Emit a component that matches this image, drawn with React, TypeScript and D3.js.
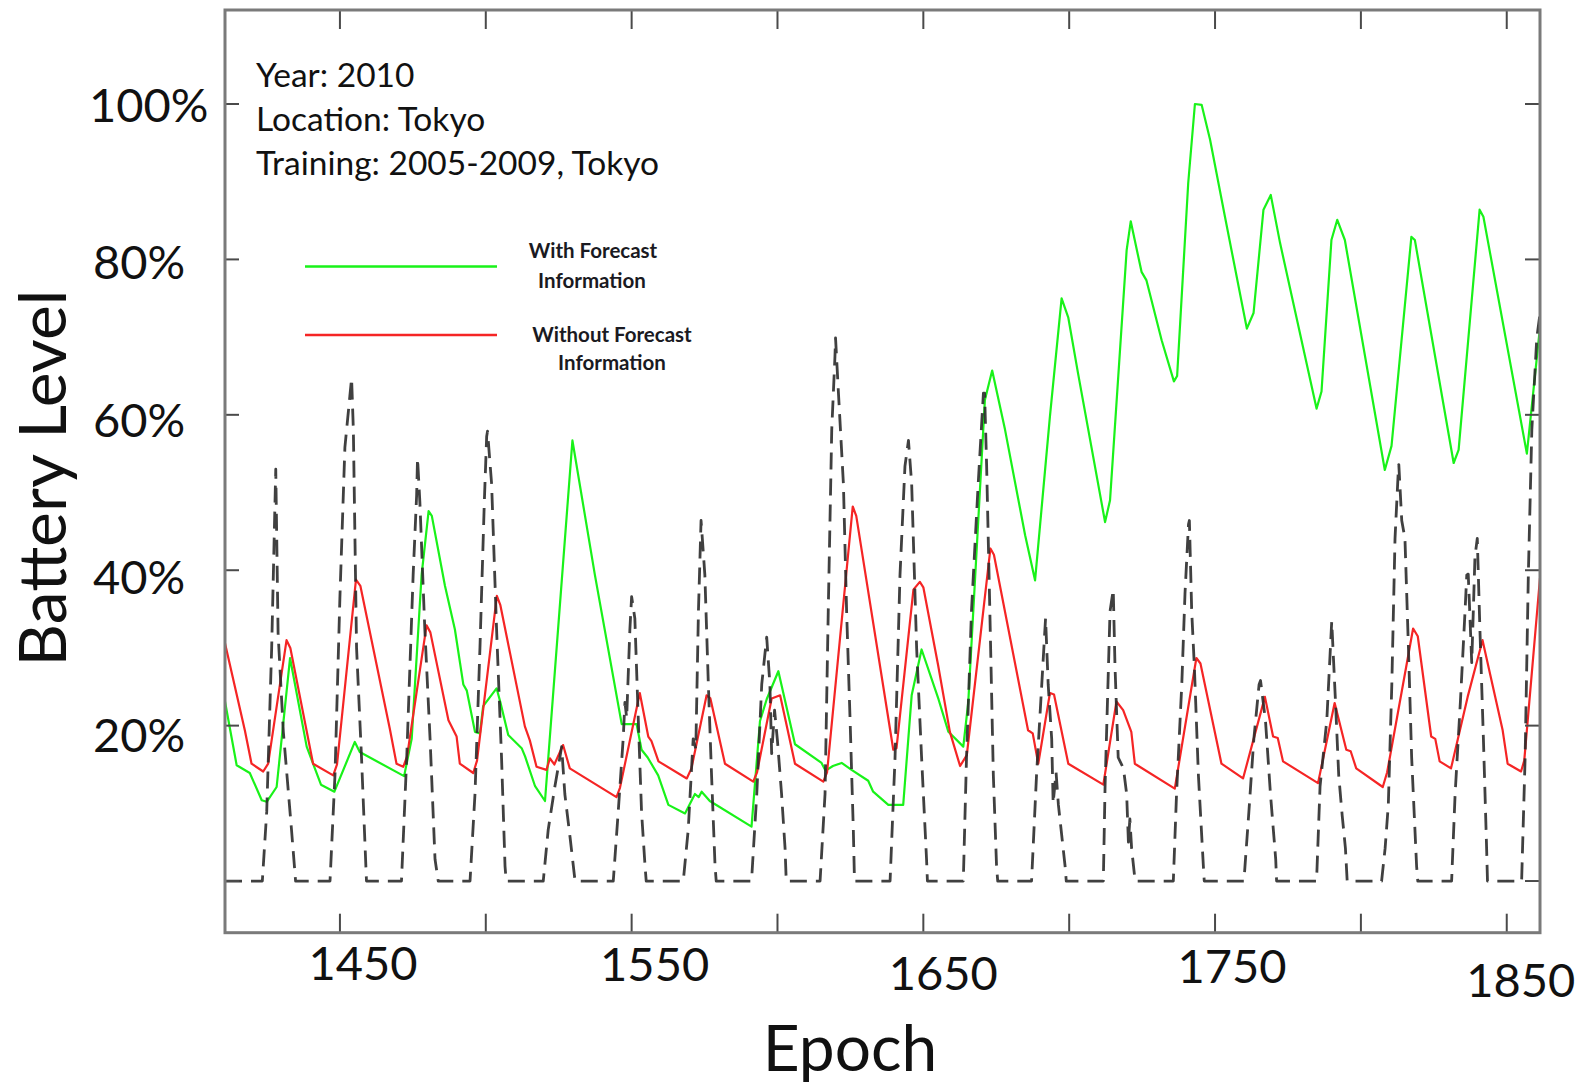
import React from "react";
import * as d3 from "d3";

// epochs shown on the axis
const xTicks = [1450, 1500, 1550, 1600, 1650, 1700, 1750, 1800, 1850];
const xLabels = [1450, 1550, 1650, 1750, 1850];
const yTicks = [0, 20, 40, 60, 80, 100];
const yLabels = [20, 40, 60, 80, 100];

const notes = ["Year: 2010", "Location: Tokyo", "Training: 2005-2009, Tokyo"];

// battery level (%) with forecast information, [epoch, value]
const withForecast: [number, number][] = [
  [1410.6, 23.1], [1414.6, 14.9], [1419.1, 13.9], [1423.2, 10.4], [1424.9, 10.2], [1428.3, 12.1],
  [1432.9, 28.7], [1438.6, 17.3], [1441.4, 14.5], [1443.5, 12.4], [1448.1, 11.5], [1455.1, 17.9],
  [1456.8, 16.6], [1472.0, 13.5], [1474.6, 18.3], [1478.0, 39.4], [1480.4, 47.6], [1481.5, 47.0],
  [1486.0, 38.0], [1489.4, 32.4], [1492.3, 25.3], [1493.5, 24.5], [1496.3, 19.2], [1498.0, 19.0],
  [1499.1, 22.5], [1503.7, 24.8], [1505.0, 23.0], [1507.7, 18.8], [1512.3, 17.1], [1513.5, 16.0],
  [1516.9, 12.2], [1520.3, 10.3], [1529.7, 56.7], [1537.4, 39.4], [1546.6, 20.2], [1551.7, 20.2],
  [1553.4, 16.9], [1555.5, 15.9], [1559.1, 13.6], [1562.6, 9.8], [1568.3, 8.7], [1571.7, 11.2],
  [1573.0, 10.8], [1574.0, 11.5], [1576.8, 10.3], [1591.1, 7.0], [1594.0, 20.6], [1596.3, 23.4],
  [1600.3, 27.0], [1606.0, 17.6], [1615.1, 15.2], [1616.5, 14.2], [1619.0, 14.8], [1622.0, 15.2],
  [1625.4, 14.3], [1631.1, 12.9], [1632.8, 11.5], [1638.0, 9.8], [1643.1, 9.8], [1646.0, 23.9],
  [1649.4, 29.8], [1655.2, 23.4], [1658.6, 19.2], [1663.7, 17.3], [1665.4, 23.0], [1671.1, 61.9],
  [1673.6, 65.7], [1678.0, 58.1], [1684.9, 44.5], [1688.3, 38.7], [1693.4, 59.8], [1697.4, 75.0],
  [1699.7, 72.5], [1703.1, 65.2], [1712.3, 46.2], [1714.0, 49.0], [1719.7, 81.2], [1721.1, 84.9],
  [1724.8, 78.4], [1726.5, 77.3], [1731.7, 69.6], [1735.9, 64.3], [1737.0, 65.0], [1740.8, 89.8],
  [1743.1, 100.0], [1745.4, 99.9], [1748.3, 95.4], [1753.4, 85.5], [1760.9, 71.1], [1763.2, 73.1],
  [1766.6, 86.4], [1769.1, 88.3], [1772.3, 82.1], [1784.8, 60.8], [1786.5, 63.0], [1789.9, 82.5],
  [1791.9, 85.1], [1794.5, 82.5], [1808.2, 52.9], [1810.5, 56.0], [1817.3, 82.9], [1818.5, 82.5],
  [1831.8, 53.8], [1833.5, 55.5], [1840.7, 86.4], [1842.0, 85.5], [1856.9, 55.0], [1861.4, 71.3],
];

// battery level (%) without forecast information
const withoutForecast: [number, number][] = [
  [1410.6, 30.6], [1417.4, 19.4], [1419.7, 15.1], [1423.7, 14.1], [1425.4, 15.1], [1431.7, 31.0],
  [1433.0, 30.0], [1440.8, 15.1], [1447.7, 13.6], [1449.0, 15.0], [1455.5, 38.8], [1457.0, 38.0],
  [1467.1, 19.6], [1469.4, 15.1], [1471.7, 14.7], [1473.0, 16.0], [1479.7, 32.9], [1481.0, 32.0],
  [1487.2, 20.7], [1490.0, 18.6], [1491.1, 15.1], [1495.7, 13.9], [1497.0, 15.5], [1503.8, 36.7],
  [1505.0, 35.5], [1513.4, 19.9], [1515.1, 18.1], [1517.4, 14.7], [1520.8, 14.3], [1522.0, 15.8],
  [1523.5, 15.0], [1526.5, 17.5], [1528.8, 14.5], [1544.8, 10.8], [1546.0, 12.0], [1552.8, 24.2],
  [1555.7, 18.6], [1556.8, 18.0], [1559.2, 15.4], [1568.9, 13.2], [1570.5, 14.5], [1575.7, 23.9],
  [1577.0, 23.5], [1582.0, 15.1], [1591.7, 12.8], [1593.0, 14.0], [1598.0, 23.5], [1600.9, 23.9],
  [1606.0, 15.1], [1615.7, 12.8], [1617.0, 14.0], [1625.8, 48.2], [1627.0, 47.0], [1639.7, 16.9],
  [1640.8, 17.1], [1646.6, 37.5], [1648.8, 38.5], [1650.0, 37.8], [1655.1, 27.7], [1659.1, 19.2],
  [1662.6, 14.8], [1664.9, 16.2], [1673.0, 42.8], [1674.2, 42.0], [1685.9, 19.4], [1687.5, 19.0],
  [1689.4, 15.1], [1693.4, 24.2], [1694.8, 24.0], [1699.7, 15.1], [1711.7, 12.4], [1716.2, 23.1],
  [1718.5, 22.0], [1721.3, 19.2], [1722.5, 15.1], [1736.2, 11.9], [1743.6, 28.7], [1745.0, 28.0],
  [1752.2, 15.1], [1759.6, 13.2], [1767.1, 23.7], [1769.9, 18.6], [1771.5, 18.4], [1773.3, 15.4],
  [1785.3, 12.6], [1791.0, 22.9], [1795.0, 16.9], [1796.5, 16.7], [1798.4, 14.5], [1807.5, 12.1],
  [1809.0, 14.0], [1817.9, 32.5], [1819.5, 31.5], [1824.1, 18.6], [1825.5, 18.3], [1827.0, 15.4],
  [1830.9, 14.5], [1836.6, 23.7], [1841.7, 31.0], [1848.6, 19.4], [1850.3, 15.1], [1854.9, 14.1],
  [1856.0, 15.5], [1861.4, 39.0],
];

// harvested energy (dashed black)
const harvest: [number, number][] = [
  [1410.6, 0], [1423.4, 0], [1424.9, 8.9], [1426.6, 30], [1428.0, 53], [1428.8, 31.9], [1430.6, 19.2], [1433.4, 6.6], [1434.8, 0],
  [1446.6, 0], [1448.3, 13.6], [1450.0, 36.6], [1451.7, 55.8], [1453.4, 62.4], [1454.0, 64.7], [1454.6, 58.1], [1455.7, 30], [1457.4, 15.9], [1459.1, 0],
  [1471.1, 0], [1472.9, 15.9], [1475.1, 39.4], [1476.3, 49.7], [1476.6, 54.4], [1477.4, 48.8], [1479.1, 32.4], [1480.9, 18.3], [1482.6, 2.8], [1483.7, 0],
  [1494.6, 0], [1496.3, 11.2], [1498.0, 30], [1499.5, 48.8], [1500.3, 57.2], [1500.6, 57.9], [1502.0, 51.1], [1503.7, 32.4], [1505.4, 15.9], [1506.6, 1.9], [1507.0, 0],
  [1519.7, 0], [1521.4, 6.6], [1523.7, 12.2], [1525.4, 15.9], [1526.0, 17.3], [1527.1, 11.2], [1528.9, 5.6], [1530.6, 0],
  [1543.7, 0], [1545.4, 8.9], [1547.1, 18.3], [1547.7, 23], [1548.3, 21], [1549.4, 32.4], [1550.0, 36.6], [1551.1, 33.8], [1552.3, 20.6], [1553.4, 8.9], [1554.6, 1.9], [1555.0, 0],
  [1567.7, 0], [1569.4, 6.6], [1571.1, 18.3], [1572.0, 17], [1572.9, 34.7], [1573.8, 46.4], [1575.1, 39.4], [1576.3, 25.3], [1577.4, 13.6], [1578.6, 1.9], [1579.0, 0],
  [1591.1, 0], [1592.9, 11.2], [1594.6, 25.3], [1596.3, 31.4], [1597.4, 25.3], [1598.0, 16.4], [1599.0, 22], [1600.0, 18], [1601.4, 11.2], [1602.6, 4.2], [1603.0, 0],
  [1614.6, 0], [1616.3, 11.2], [1617.4, 34.7], [1618.6, 58.1], [1619.7, 67.5], [1619.9, 69.9], [1620.9, 62.8], [1622.6, 51.1], [1623.7, 34.7], [1624.9, 20.6], [1626.0, 6.6], [1626.4, 0],
  [1638.6, 0], [1640.3, 15.9], [1642.0, 39.4], [1643.7, 53.4], [1644.9, 56.7], [1646.0, 51.1], [1647.7, 30], [1649.4, 15.9], [1651.1, 2.8], [1651.4, 0],
  [1663.7, 0], [1664.8, 15.9], [1666.5, 34.7], [1668.8, 51.1], [1670.6, 62.8], [1671.0, 62.8], [1671.7, 53.4], [1672.8, 34.7], [1674.0, 13.6], [1675.1, 1.9], [1675.5, 0],
  [1687.1, 0], [1688.8, 13.6], [1690.6, 25.3], [1691.9, 33.8], [1692.8, 25.3], [1694.0, 18.3], [1694.5, 10], [1695.5, 14], [1696.3, 9.8], [1698.6, 1.9], [1699.0, 0],
  [1711.7, 0], [1712.3, 12.2], [1714.0, 34.7], [1715.1, 37.5], [1715.7, 27.7], [1716.8, 15.9], [1718.6, 14.5], [1719.7, 11.2], [1720.3, 5], [1720.8, 8], [1721.4, 4.2], [1722.6, 0],
  [1735.7, 0], [1736.8, 11.2], [1738.6, 25.3], [1739.7, 37], [1740.9, 45.9], [1741.2, 46.4], [1742.0, 34.7], [1742.9, 27.7], [1744.3, 13.6], [1746.0, 1.9], [1746.3, 0],
  [1759.9, 0], [1761.6, 8.9], [1763.3, 18.3], [1765.1, 25.3], [1765.6, 25.8], [1767.3, 20.6], [1769.0, 11.2], [1770.8, 2.8], [1771.1, 0],
  [1784.8, 0], [1786.0, 12.2], [1788.3, 20.6], [1790.0, 33.4], [1791.3, 23], [1792.4, 13.6], [1793.6, 8.4], [1794.7, 4.2], [1795.3, 0],
  [1807.1, 0], [1808.3, 4.2], [1809.4, 9.8], [1810.6, 25.3], [1811.7, 44.1], [1812.9, 53.4], [1813.0, 53.6], [1814.0, 46.4], [1815.1, 44.1], [1816.3, 30], [1817.4, 15.9], [1819.1, 1.9], [1819.5, 0],
  [1831.1, 0], [1832.3, 11.2], [1834.1, 23], [1835.7, 34.7], [1836.3, 39.4], [1836.8, 39.5], [1838.0, 28.1], [1839.1, 41.7], [1839.9, 44.1], [1840.8, 32.4], [1842.0, 18.3], [1843.1, 4.2], [1843.4, 0],
  [1855.1, 0], [1856.3, 15.9], [1857.4, 39.4], [1858.6, 58.1], [1860.3, 69.9], [1861.4, 73],
];

const FONT = "Lato, 'Open Sans', sans-serif";

export default function App() {
  const width = 1583;
  const height = 1087;
  const plot = { left: 225, right: 1540, top: 10, bottom: 932.7 };

  const x = d3.scaleLinear().domain([1410.6, 1861.4]).range([plot.left, plot.right]);
  const y = d3.scaleLinear().domain([-6.65, 112.1]).range([plot.bottom, plot.top]);

  const line = d3
    .line<[number, number]>()
    .x((d) => x(d[0]))
    .y((d) => y(d[1]));

  // the tick labels of the original sit a little off their ticks
  const xLabelShift = [
    { dx: 23, base: 980 },
    { dx: 23, base: 981 },
    { dx: 20, base: 990 },
    { dx: 17, base: 983 },
    { dx: 14, base: 997 },
  ];

  const axisColor = "#7a7a7a";
  const tickColor = "#4a4a4a";

  return (
    <div style={{ position: "absolute", left: 0, top: 0 }}>
      <svg width={width} height={height} style={{ display: "block", background: "#fff" }}>
        <defs>
          <clipPath id="plot-clip">
            <rect x={plot.left} y={plot.top} width={plot.right - plot.left} height={plot.bottom - plot.top} />
          </clipPath>
        </defs>

        {/* series */}
        <g clipPath="url(#plot-clip)" fill="none" strokeLinejoin="round">
          <path d={line(withForecast) ?? ""} stroke="#19f219" strokeWidth={2.2} />
          <path d={line(withoutForecast) ?? ""} stroke="#f52525" strokeWidth={2.2} />
          <path
            d={line(harvest) ?? ""}
            stroke="#2b2b2b"
            strokeWidth={2.8}
            strokeDasharray="17,9"
            strokeOpacity={0.9}
          />
        </g>

        {/* ticks */}
        <g stroke={tickColor} strokeWidth={2}>
          {xTicks.map((t) => (
            <g key={"xt" + t}>
              <line x1={x(t)} x2={x(t)} y1={plot.bottom} y2={plot.bottom - 19} />
              <line x1={x(t)} x2={x(t)} y1={plot.top} y2={plot.top + 19} />
            </g>
          ))}
          {yTicks.map((t) => (
            <g key={"yt" + t}>
              <line x1={plot.left} x2={plot.left + 14} y1={y(t)} y2={y(t)} />
              <line x1={plot.right} x2={plot.right - 15} y1={y(t)} y2={y(t)} />
            </g>
          ))}
        </g>

        {/* frame */}
        <rect
          x={plot.left}
          y={plot.top}
          width={plot.right - plot.left}
          height={plot.bottom - plot.top}
          fill="none"
          stroke={axisColor}
          strokeWidth={3}
        />

        {/* tick labels */}
        <g fontFamily={FONT} fill="#111" fontSize={47}>
          {yLabels.map((v) => (
            <text key={"yl" + v} x={v === 100 ? 89 : 93} y={y(v) + 18 + (100 - v) * 0.1}>
              {v}%
            </text>
          ))}
          {xLabels.map((v, i) => (
            <text key={"xl" + v} x={x(v) + xLabelShift[i].dx} y={xLabelShift[i].base} textAnchor="middle">
              {v}
            </text>
          ))}
        </g>

        {/* axis titles */}
        <text x={850} y={1071} textAnchor="middle" fontFamily={FONT} fontSize={64} fill="#111">
          Epoch
        </text>
        <text
          transform="translate(66,478) rotate(-90)"
          textAnchor="middle"
          fontFamily={FONT}
          fontSize={66}
          fill="#111"
        >
          Battery Level
        </text>

        {/* notes */}
        <g fontFamily={FONT} fontSize={33.5} fill="#111">
          {notes.map((n, i) => (
            <text key={n} x={256} y={87 + i * 44}>
              {n}
            </text>
          ))}
        </g>

        {/* legend */}
        <g fontFamily={FONT} fontSize={20.5} fontWeight="bold" fill="#1a1a22">
          <line x1={305} x2={497} y1={266.5} y2={266.5} stroke="#19f219" strokeWidth={2.5} />
          <text x={593} y={258} textAnchor="middle">With Forecast</text>
          <text x={592} y={288} textAnchor="middle">Information</text>
          <line x1={305} x2={497} y1={335} y2={335} stroke="#f52525" strokeWidth={2.5} />
          <text x={612} y={341.5} textAnchor="middle">Without Forecast</text>
          <text x={612} y={370} textAnchor="middle">Information</text>
        </g>
      </svg>
    </div>
  );
}
